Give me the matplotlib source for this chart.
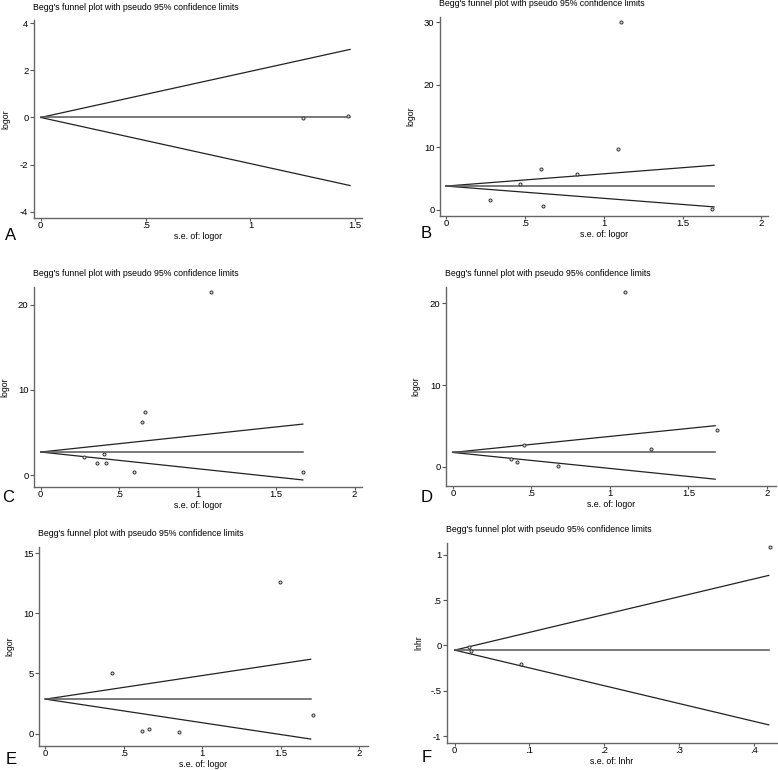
import numpy as np
import matplotlib
matplotlib.use('Agg')
import matplotlib.pyplot as plt
from matplotlib.ticker import FuncFormatter

plt.rcParams['font.family'] = ['Liberation Sans', 'DejaVu Sans']

TITLE = "Begg's funnel plot with pseudo 95% confidence limits"

# per-panel data: pooled estimate, largest s.e., study points
letters = ['A', 'B', 'C', 'D', 'E', 'F']
ylabels = ['logor', 'logor', 'logor', 'logor', 'logor', 'lnhr']
xlabels = ['s.e. of: logor'] * 5 + ['s.e. of: lnhr']
pooled = [0.0, 3.79, 2.73, 1.75, 2.87, -0.051]
max_se = [1.475, 1.70, 1.67, 1.67, 1.69, 0.42]

se_a = [1.25, 1.465]
es_a = [-0.02, 0.06]
se_b = [0.279, 0.471, 0.602, 0.617, 0.830, 1.09, 1.109, 1.69]
es_b = [1.6, 4.16, 6.5, 0.59, 5.8, 9.65, 30.0, 0.16]
se_c = [0.278, 0.359, 0.40, 0.414, 0.593, 0.646, 0.663, 1.086, 1.67]
es_c = [2.11, 1.41, 2.53, 1.48, 0.39, 6.29, 7.38, 21.45, 0.39]
se_d = [0.368, 0.41, 0.451, 0.667, 1.095, 1.263, 1.679]
es_d = [0.9, 0.53, 2.6, 0.12, 21.43, 2.12, 4.48]
se_e = [0.421, 0.615, 0.659, 0.853, 1.497, 1.704]
es_e = [5.07, 0.19, 0.36, 0.14, 12.57, 1.54]
se_f = [0.019, 0.022, 0.088, 0.421]
es_f = [-0.02, -0.066, -0.205, 1.08]

points_se = [se_a, se_b, se_c, se_d, se_e, se_f]
points_es = [es_a, es_b, es_c, es_d, es_e, es_f]

xticks = [[0, 0.5, 1, 1.5], [0, 0.5, 1, 1.5, 2], [0, 0.5, 1, 1.5, 2],
          [0, 0.5, 1, 1.5, 2], [0, 0.5, 1, 1.5, 2], [0, 0.1, 0.2, 0.3, 0.4]]
yticks = [[-4, -2, 0, 2, 4], [0, 10, 20, 30], [0, 10, 20], [0, 10, 20],
          [0, 5, 10, 15], [-1, -0.5, 0, 0.5, 1]]

# layout (pixels): left, top, right, bottom of each plot region
boxes = [(34, 20, 362, 218), (440, 17, 768, 216), (34, 287, 362, 487),
         (446, 287, 776, 486), (39, 547, 368, 746), (447, 543, 777, 743)]
xlims = [(-0.032, 1.532), (-0.038, 2.042), (-0.043, 2.047),
         (-0.043, 2.057), (-0.041, 2.055), (-0.0103, 0.431)]
ylims = [(-4.27, 4.14), (-1.0, 30.85), (-1.37, 22.07),
         (-2.36, 22.0), (-1.02, 15.5), (-1.074, 1.129)]
ylab_x = [5.5, 410.5, 5, 416, 10, 419]
letter_xy = [(11, 236), (426, 233), (8, 497), (427, 498), (11, 759), (427, 757)]

W, H = 778, 770


def stata_fmt(v, pos):
    s = ('%g' % v)
    if s.startswith('0.'):
        s = s[1:]
    elif s.startswith('-0.'):
        s = '-' + s[2:]
    return s


fig = plt.figure(figsize=(W / 100, H / 100), dpi=100)

for i in range(6):
    l, t, r, b = boxes[i]
    ax = fig.add_axes([l / W, 1 - b / H, (r - l) / W, (b - t) / H])
    se_line = np.array([0, max_se[i]])
    p = pooled[i]
    ax.plot(se_line, p + 1.96 * se_line, color='#222222', lw=0.9)
    ax.plot(se_line, p - 1.96 * se_line, color='#222222', lw=0.9)
    ax.plot(se_line, [p, p], color='#555555', lw=1.1)
    ax.plot(points_se[i], points_es[i], 'o', ms=2.2, mfc='#dddddd',
            mec='#333333', mew=0.7)

    ax.set_xlim(xlims[i])
    ax.set_ylim(ylims[i])
    ax.set_xticks(xticks[i])
    ax.set_yticks(yticks[i])
    ax.xaxis.set_major_formatter(FuncFormatter(stata_fmt))
    ax.yaxis.set_major_formatter(FuncFormatter(stata_fmt))
    ax.tick_params(labelsize=6.8, length=3, width=0.8, color='#555555',
                   pad=1)
    ax.tick_params(axis='x', length=2.5, pad=0)
    for side in ['top', 'right']:
        ax.spines[side].set_visible(False)
    for side in ['left', 'bottom']:
        ax.spines[side].set_color('#666666')
        ax.spines[side].set_linewidth(1.0)

    fig.text((l - 1) / W, 1 - (t - 13) / H, TITLE, fontsize=6.3,
             ha='left', va='center')
    fig.text(ylab_x[i] / W, 1 - ((t + b) / 2) / H, ylabels[i], fontsize=6.3,
             rotation=90, ha='center', va='center')
    fig.text(((l + r) / 2) / W, 1 - (b + 18.5) / H, xlabels[i], fontsize=6.3,
             ha='center', va='center')
    lx, ly = letter_xy[i]
    fig.text(lx / W, 1 - ly / H, letters[i], fontsize=12,
             ha='center', va='center')

fig.savefig('out.png', dpi=100)
